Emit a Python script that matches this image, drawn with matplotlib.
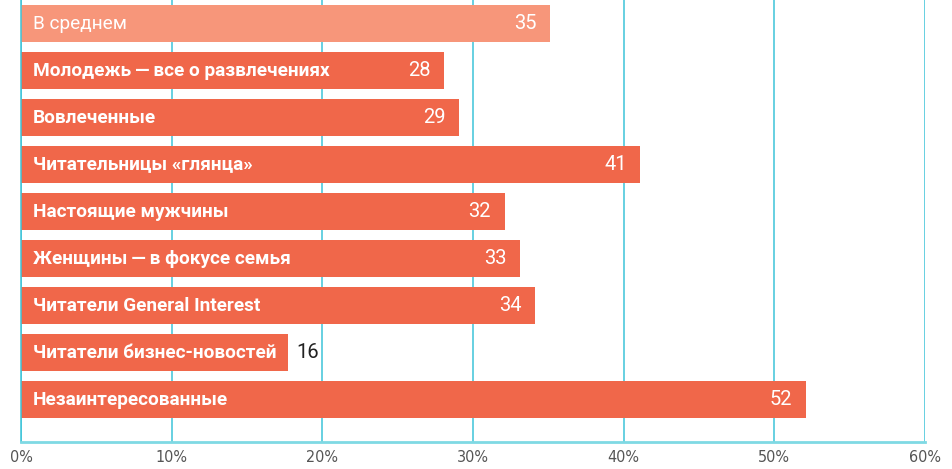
import matplotlib
matplotlib.use('Agg')
import matplotlib.pyplot as plt

categories = ['В среднем', 'Молодежь\u2009—\u2009все о развлечениях', 'Вовлеченные',
              'Читательницы «глянца»', 'Настоящие мужчины',
              'Женщины\u2009—\u2009в фокусе семья', 'Читатели General Interest',
              'Читатели бизнес-новостей', 'Незаинтересованные']
values = [35, 28, 29, 41, 32, 33, 34, 16, 52]
# bar lengths as drawn (the short bar is stretched to hold its label)
bar_lengths = [35.1, 28.1, 29.1, 41.1, 32.1, 33.1, 34.1, 17.7, 52.1]
ticks = [0, 10, 20, 30, 40, 50, 60]
tick_labels = ['0%', '10%', '20%', '30%', '40%', '50%', '60%']

plt.rcParams['font.family'] = ['Roboto', 'DejaVu Sans']

fig = plt.figure(figsize=(9.52, 4.69), dpi=100)
ax = fig.add_axes([21 / 952, 27 / 469, 904 / 952, 1 - 27 / 469])

colors = ['#F7967A'] + ['#F0674A'] * (len(values) - 1)
ax.barh(range(len(values)), bar_lengths, height=0.79, color=colors, zorder=2)

for i, (cat, v, w) in enumerate(zip(categories, values, bar_lengths)):
    weight = 'normal' if i == 0 else 'bold'
    ax.text(0.8, i, cat, color='white', fontsize=13.7,
            fontweight=weight, va='center', ha='left', zorder=3)
    if v < 20:
        ax.text(w + 0.6, i, str(v), color='#222222', fontsize=14.5,
                va='center', ha='left', zorder=3)
    else:
        ax.text(w - 0.9, i, str(v), color='white', fontsize=14.5,
                va='center', ha='right', zorder=3)

ax.set_xlim(0, 60)
ax.set_ylim(8.9, -0.5)
ax.set_xticks(ticks)
ax.set_xticklabels(tick_labels, color='#555555', fontsize=11.5,
                   family='DejaVu Sans', fontstretch='condensed')
ax.set_yticks([])
ax.tick_params(axis='x', length=0, pad=6)
ax.grid(axis='x', color='#3DC4D8', linewidth=1.1, zorder=1)
for s in ['top', 'right']:
    ax.spines[s].set_visible(False)
ax.spines['left'].set_color('#3DC4D8')
ax.spines['left'].set_linewidth(1.1)
ax.spines['bottom'].set_color('#7FD9E4')
ax.spines['bottom'].set_linewidth(2)
ax.set_axisbelow(True)

fig.savefig('out.png', dpi=100)
